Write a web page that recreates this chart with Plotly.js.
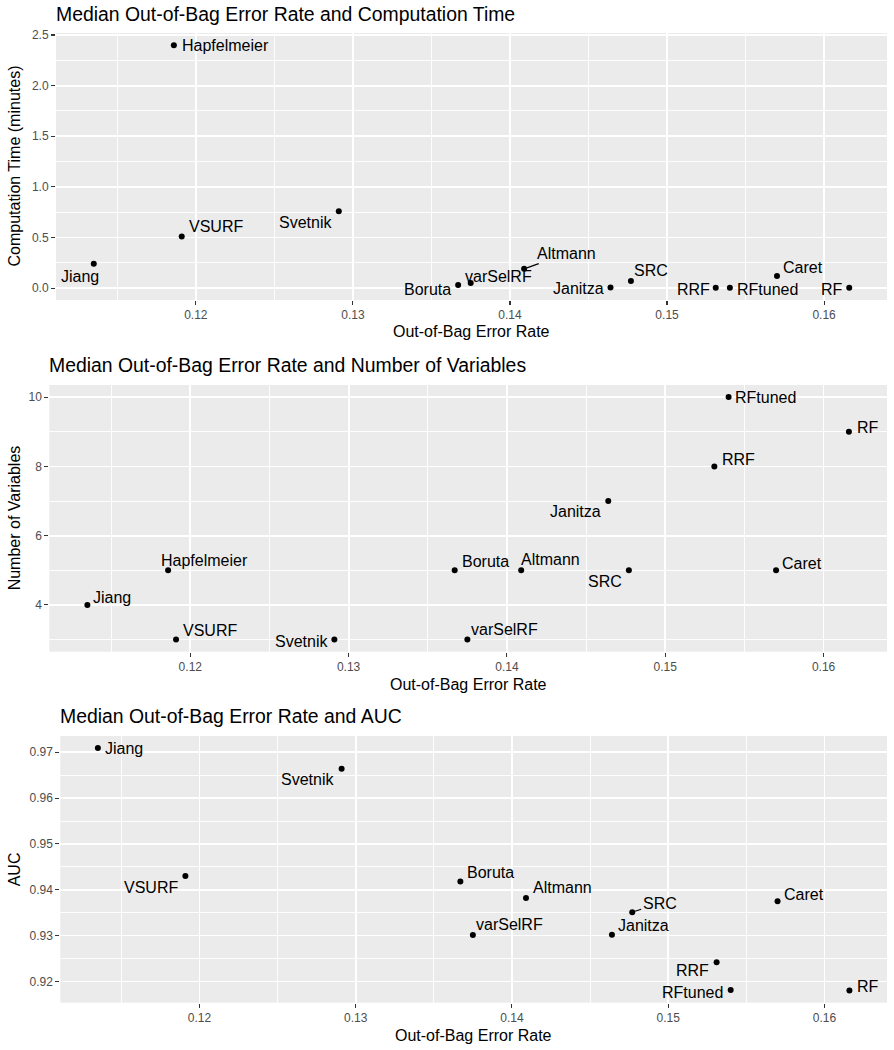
<!DOCTYPE html>
<html><head><meta charset="utf-8">
<script src="https://cdn.plot.ly/plotly-3.0.1.min.js"></script>
<style>html,body{margin:0;padding:0;background:#fff}</style>
</head><body><div id="chart" style="width:894px;height:1050px"></div>
<script>
// ---- data ----
const methods  = ['Jiang','Hapfelmeier','VSURF','Svetnik','Boruta','varSelRF','Altmann','Janitza','SRC','RRF','RFtuned','Caret','RF'];
const oobError = [0.1135,0.1186,0.1191,0.1291,0.1367,0.1375,0.1409,0.1464,0.1477,0.1531,0.1540,0.1570,0.1616];
const compTime = [0.24,2.40,0.51,0.76,0.03,0.05,0.19,0.006,0.07,0.002,0.002,0.12,0.002];
const numVars  = [4,5,3,3,5,3,5,7,5,8,10,5,9];
const auc      = [0.9709,null,0.9430,0.9664,0.9418,0.9301,0.9382,0.9302,0.9351,0.9242,0.9181,0.9375,0.9180];
const panelTitles = ['Median Out-of-Bag Error Rate and Computation Time','Median Out-of-Bag Error Rate and Number of Variables','Median Out-of-Bag Error Rate and AUC'];
const yTitles = ['Computation Time (minutes)','Number of Variables','AUC'];
const xTitle = 'Out-of-Bag Error Rate';

// ---- label placement (style: anchor, dx px, dy px downward) ----
const labelPos = [
  {Jiang:['c',-13.5,13],Hapfelmeier:['l',6.7,0],VSURF:['l',6.3,-10],Svetnik:['r',-6,11.5],Boruta:['r',-6.6,4.7],
   varSelRF:['l',-7,-6.6],Altmann:['a',42.7,-15.2],Janitza:['r',-6,1],SRC:['l',2.3,-10.7],RRF:['r',-4.3,1.3],
   RFtuned:['l',5.7,1.3],Caret:['l',5,-8],RF:['r',-5,1.3]},
  {Jiang:['l',5,-7],Hapfelmeier:['l',-8.4,-9.8],VSURF:['l',6,-9.3],Svetnik:['r',-5.7,1.5],Boruta:['l',6,-9],
   varSelRF:['l',2.3,-10],Altmann:['l',-1.3,-10.5],Janitza:['r',-6,10.5],SRC:['r',-5.4,11.2],RRF:['l',6.7,-6.5],
   RFtuned:['l',5,0],Caret:['l',5.3,-7.2],RF:['l',7.3,-3.8]},
  {Jiang:['l',6.3,0],VSURF:['r',-6,11.2],Svetnik:['r',-6.3,10.5],Boruta:['l',6,-9.2],varSelRF:['l',2,-11.1],
   Altmann:['l',6.3,-10.5],Janitza:['l',5.3,-9.2],SRC:['a',27.4,-9.1],RRF:['r',-6.3,7.9],RFtuned:['r',-6.3,2.2],
   Caret:['l',5.3,-6.8],RF:['l',7,-4.2]}
];

const W = 894, H = 1050;
const FONT = 'Liberation Sans, Arial, sans-serif';
// plot rectangles in px: [left, right, top, bottom]
const rects = [[56,887,33,300],[49.3,887,385,651.7],[60.3,887,736,1002.7]];
const titleY = [14,365.5,716.3];
const xTitleY = [332,684,1035];
const ySeries = [compTime, numVars, auc];

function expRange(arr){
  const v = arr.filter(d => d !== null);
  const mn = Math.min(...v), mx = Math.max(...v), s = mx - mn;
  return [mn - 0.05*s, mx + 0.05*s];
}

const traces = [], annotations = [], layout = {
  width: W, height: H, margin:{l:0,r:0,t:0,b:0},
  paper_bgcolor:'#ffffff', plot_bgcolor:'#EBEBEB', showlegend:false,
  font:{family:FONT, color:'#000'}
};

const yTickCfg = [
  {dtick:0.5, tick0:0, tickformat:'.1f', minor:0.25},
  {dtick:2, tick0:0, tickformat:'d', minor:1},
  {dtick:0.01, tick0:0, tickformat:'.2f', minor:0.005}
];

for (let p = 0; p < 3; p++) {
  const sfx = p === 0 ? '' : String(p+1);
  const [L,R,T,B] = rects[p];
  const ys = ySeries[p];
  const xs = [], yv = [], names = [];
  for (let i = 0; i < methods.length; i++) {
    if (ys[i] === null) continue;
    xs.push(oobError[i]); yv.push(ys[i]); names.push(methods[i]);
  }
  traces.push({type:'scatter', mode:'markers', x:xs, y:yv, text:names,
    xaxis:'x'+sfx, yaxis:'y'+sfx, marker:{color:'#000', size:6}, hoverinfo:'text'});

  const common = {showline:false, zeroline:false, ticks:'outside', ticklen:4, tickwidth:1.1, tickcolor:'#333333',
    gridcolor:'#ffffff', gridwidth:1.8, tickfont:{family:FONT, size:12, color:'#4D4D4D'}};
  layout['xaxis'+sfx] = Object.assign({}, common, {
    domain:[L/W, R/W], anchor:'y'+sfx, range:expRange(oobError), dtick:0.01, tick0:0, tickformat:'.2f',
    minor:{dtick:0.005, tick0:0, showgrid:true, gridcolor:'#ffffff', gridwidth:0.9, ticks:''}
  });
  const yc = yTickCfg[p];
  layout['yaxis'+sfx] = Object.assign({}, common, {
    domain:[1-B/H, 1-T/H], anchor:'x'+sfx, range:expRange(ys), dtick:yc.dtick, tick0:yc.tick0, tickformat:yc.tickformat,
    minor:{dtick:yc.minor, tick0:0, showgrid:true, gridcolor:'#ffffff', gridwidth:0.9, ticks:''}
  });

  // panel title
  annotations.push({xref:'paper', yref:'paper', x:L/W, y:1-titleY[p]/H, xanchor:'left', yanchor:'middle', xshift:-2,
    text:panelTitles[p], showarrow:false, font:{family:FONT, size:19.4, color:'#000'}});
  // x axis title
  annotations.push({xref:'paper', yref:'paper', x:(L+R)/2/W, y:1-xTitleY[p]/H, xanchor:'center', yanchor:'middle',
    text:xTitle, showarrow:false, font:{family:FONT, size:16, color:'#000'}});
  // y axis title
  annotations.push({xref:'paper', yref:'paper', x:14/W, y:1-(T+B)/2/H, xanchor:'center', yanchor:'middle',
    text:yTitles[p], textangle:-90, showarrow:false, font:{family:FONT, size:16, color:'#000'}});

  // point labels
  for (let i = 0; i < xs.length; i++) {
    const pos = labelPos[p][names[i]];
    const a = {xref:'x'+sfx, yref:'y'+sfx, x:xs[i], y:yv[i], text:names[i],
      font:{family:FONT, size:16, color:'#000'}, yanchor:'middle'};
    if (pos[0] === 'a') {
      Object.assign(a, {showarrow:true, arrowhead:0, arrowwidth:1.2, arrowcolor:'#000', ax:pos[1], ay:pos[2], standoff:3, xanchor:'center'});
    } else {
      Object.assign(a, {showarrow:false, xanchor: pos[0]==='l'?'left':(pos[0]==='r'?'right':'center'),
        xshift: pos[0]==='l'? pos[1]-1 : (pos[0]==='r'? pos[1]+1 : pos[1]), yshift:-pos[2]});
    }
    annotations.push(a);
  }
}
layout.annotations = annotations;
Plotly.newPlot('chart', traces, layout, {staticPlot:true, displayModeBar:false});
</script></body></html>
